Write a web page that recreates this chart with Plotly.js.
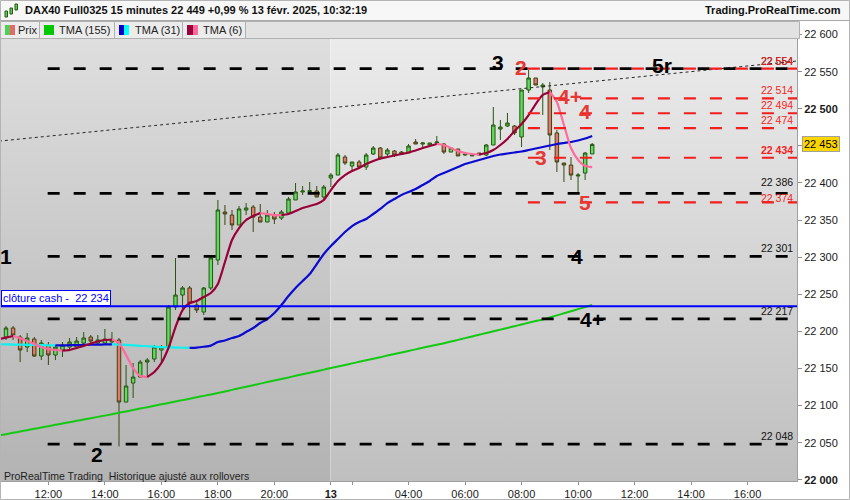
<!DOCTYPE html>
<html><head><meta charset="utf-8">
<script src="https://cdn.plot.ly/plotly-3.0.1.min.js"></script>
<style>html,body{margin:0;padding:0;background:#fff}#chart{width:850px;height:500px}</style>
</head><body><div id="chart"></div>
<script>
// ---- DATA (15-minute candles, DAX40 Full0325, 12 févr. 10:30 -> 13 févr. 10:30) ----
const open  = [22192.4,22204.6,22192.4,22178.9,22189.7,22166.8,22181.6,22168.2,22174.9,22178.9,
               22178.9,22184.3,22192.4,22184.3,22184.3,22185.7,22188.4,22104.8,22130.4,22138.5,
               22158.7,22162.8,22174.9,22178.9,22232.9,22249.0,22258.5,22235.6,22226.1,22258.5,
               22296.2,22360.9,22356.8,22343.4,22363.6,22367.6,22354.1,22347.4,22356.8,22352.8,
               22359.5,22377.1,22387.9,22388.5,22389.2,22381.1,22406.7,22410.7,22435.0,22422.9,
               22428.3,22421.5,22439.1,22447.1,22439.1,22443.1,22441.7,22440.4,22455.2,22452.5,
               22451.2,22453.9,22452.5,22441.7,22445.8,22437.7,22436.4,22440.4,22437.7,22451.2,
               22472.7,22476.8,22476.8,22462.0,22525.3,22541.5,22529.4,22525.3,22467.4,22426.9,
               22424.2,22409.4,22413.4,22439.1];
const high  = [22207.2,22207.2,22195.1,22197.8,22192.4,22188.4,22185.7,22181.6,22185.7,22191.1,
               22192.4,22199.2,22195.1,22195.1,22203.2,22199.2,22191.1,22154.7,22157.4,22161.4,
               22164.1,22181.6,22181.6,22235.6,22298.9,22261.2,22261.2,22242.3,22259.8,22302.9,
               22377.1,22370.3,22363.6,22369.0,22373.0,22370.3,22371.7,22363.6,22360.9,22363.6,
               22381.1,22400.0,22395.9,22401.3,22395.9,22397.3,22413.4,22440.4,22437.7,22428.3,
               22431.0,22440.4,22449.8,22448.5,22447.1,22444.4,22443.1,22452.5,22459.3,22455.2,
               22453.9,22463.3,22453.9,22447.1,22445.8,22441.7,22437.7,22440.4,22452.5,22502.4,
               22484.9,22494.3,22478.1,22525.3,22552.3,22541.5,22534.7,22536.1,22471.4,22426.9,
               22435.0,22413.4,22441.7,22453.9];
const low   = [22188.4,22188.4,22158.7,22172.2,22165.5,22161.4,22154.7,22161.4,22165.5,22174.9,
               22177.6,22181.6,22181.6,22181.6,22181.6,22184.3,22045.0,22104.8,22110.2,22138.5,
               22138.5,22158.7,22158.7,22176.2,22228.8,22228.8,22218.0,22224.8,22222.1,22255.8,
               22289.5,22343.4,22336.6,22343.4,22356.8,22334.0,22347.4,22347.4,22344.7,22350.1,
               22359.5,22377.1,22383.8,22386.5,22381.1,22377.1,22394.6,22410.7,22424.2,22414.8,
               22420.2,22417.5,22437.7,22431.0,22436.4,22435.0,22437.7,22440.4,22452.5,22448.5,
               22449.8,22452.5,22439.1,22441.7,22436.4,22436.4,22436.4,22437.7,22436.4,22451.2,
               22457.9,22475.4,22464.7,22448.5,22521.3,22532.0,22491.6,22444.4,22414.8,22401.3,
               22404.0,22386.5,22404.0,22439.1];
const close = [22204.6,22195.1,22174.9,22191.1,22166.8,22184.3,22168.2,22178.9,22181.6,22185.7,
               22187.0,22191.1,22187.0,22188.4,22189.7,22188.4,22104.8,22126.4,22138.5,22158.7,
               22161.4,22178.9,22178.9,22232.9,22249.0,22258.5,22238.2,22228.8,22258.5,22298.9,
               22363.6,22358.2,22343.4,22365.0,22366.3,22354.1,22347.4,22356.8,22351.4,22360.9,
               22378.4,22387.9,22389.2,22389.5,22381.1,22394.6,22410.7,22437.7,22426.9,22428.3,
               22421.5,22437.7,22447.1,22433.6,22444.4,22437.7,22439.1,22449.8,22452.5,22453.9,
               22453.9,22455.2,22441.7,22447.1,22436.4,22439.1,22437.7,22437.7,22451.2,22478.1,
               22475.4,22480.8,22467.4,22525.3,22541.5,22532.0,22532.0,22464.7,22428.3,22424.2,
               22410.7,22410.7,22440.4,22452.0];
// moving averages: first value is the bar just before the first visible candle
const tma155 = [22059.7,
                22061.5,22063.3,22065.1,22066.9,22068.7,22070.5,22072.3,22074.1,22075.9,22077.7,
                22079.5,22081.3,22083.1,22084.8,22086.5,22088.4,22090.3,22092.2,22094.1,22096.0,
                22097.9,22099.8,22101.7,22103.6,22105.5,22107.4,22109.3,22111.2,22113.1,22115.0,
                22117.0,22119.1,22121.2,22123.3,22125.4,22127.5,22129.6,22131.7,22133.8,22135.9,
                22138.0,22140.1,22142.2,22144.3,22146.4,22148.5,22150.6,22152.7,22154.8,22156.9,
                22159.0,22161.1,22163.2,22165.3,22167.4,22169.5,22171.6,22173.7,22175.8,22177.9,
                22180.0,22182.0,22184.0,22186.3,22188.6,22190.9,22193.2,22195.5,22197.8,22200.1,
                22202.4,22204.7,22207.0,22209.3,22211.6,22213.9,22216.0,22218.8,22221.6,22224.4,
                22227.2,22230.0,22232.8,22235.6];
const tma31 = [22182.7,
               22182.5,22182.3,22182.1,22181.9,22181.7,22181.5,22181.3,22181.1,22181.2,22181.4,
               22181.6,22181.8,22182.0,22182.2,22182.4,22182.6,22182.3,22181.8,22181.2,22180.6,
               22180.0,22179.4,22178.9,22178.5,22178.2,22178.0,22177.8,22178.2,22179.3,22180.8,
               22185.7,22187.7,22191.1,22193.8,22199.2,22204.6,22211.3,22216.7,22224.8,22235.6,
               22247.7,22258.5,22267.9,22277.3,22290.8,22304.3,22315.1,22324.5,22333.9,22342.0,
               22347.4,22351.4,22358.2,22365.0,22373.0,22378.4,22383.8,22387.9,22391.9,22397.3,
               22402.7,22409.4,22413.4,22417.5,22421.5,22425.6,22428.3,22431.0,22433.7,22436.4,
               22438.4,22439.7,22441.1,22442.4,22444.4,22446.5,22448.5,22450.5,22452.5,22453.9,
               22455.2,22457.2,22459.9,22463.3];
const tma6 = [22189.5,
              22191.7,22193.8,22191.1,22187.0,22183.0,22178.9,22176.2,22174.9,22174.2,22174.9,
              22177.6,22180.3,22183.7,22186.4,22188.4,22189.1,22184.3,22168.2,22150.6,22139.9,
              22138.5,22145.2,22157.4,22177.6,22205.9,22228.8,22238.2,22240.9,22246.3,22251.7,
              22263.9,22293.5,22323.2,22339.3,22350.1,22355.5,22359.5,22358.2,22356.8,22356.8,
              22358.2,22362.2,22366.3,22369.0,22371.7,22377.1,22390.5,22402.7,22410.7,22416.1,
              22420.2,22425.6,22429.6,22433.0,22435.0,22437.0,22439.1,22441.1,22443.8,22447.1,
              22449.8,22452.5,22451.2,22447.1,22443.1,22440.4,22439.1,22438.4,22440.4,22444.4,
              22451.2,22459.3,22470.1,22479.5,22491.6,22506.4,22518.6,22522.6,22509.1,22478.1,
              22447.1,22430.9,22422.9,22421.5];
const xTickIdx  = [6,14,22,30,38,46,49,57,65,73,81,89,97,105];
const xTickText = ['12:00','14:00','16:00','18:00','20:00','<b>13</b>','','04:00','06:00','08:00','10:00','12:00','14:00','16:00'];
const yTickVals = [22000,22050,22100,22150,22200,22250,22300,22350,22400,22450,22500,22550,22600];
const yTickText = ['<b>22 000</b>','22 050','22 100','22 150','22 200','22 250','22 300','22 350','22 400','22 450','<b>22 500</b>','22 550','22 600'];
const levelsBlack = [22554,22386,22301,22217,22048];
const levelsRed   = [22554,22514,22494,22474,22434,22374];
const cashClose = 22234;
const lastPrice = 22453;
const trendIdx = [-1,112];
const trendPrices = [22456.4,22564.4];

// ---- helpers ----
const FONT = 'Liberation Sans, Arial, sans-serif';
const PW = 797, PT = 21, PB = 481, PH = PB - PT;
const P = x => x / PW;            // pixel x -> paper
const Q = y => (PB - y) / PH;     // pixel y -> paper
const fmt = v => { const s = String(v); return s.slice(0, s.length - 3) + ' ' + s.slice(-3); };
const idx = open.map((_, i) => i);
const maIdx = tma155.map((_, i) => i - 1);

function segs(vals, upC, downC, w) {
  const out = [];
  let dir = vals[1] >= vals[0] ? 1 : -1, start = 0;
  const mk = (a, b, dd) => ({type:'scatter', mode:'lines', x: maIdx.slice(a, b+1), y: vals.slice(a, b+1),
      line:{color: dd > 0 ? upC : downC, width: w, shape:'spline', smoothing:0.6}, hoverinfo:'skip', showlegend:false});
  for (let i = 1; i < vals.length; i++) {
    const d = vals[i] > vals[i-1] ? 1 : (vals[i] < vals[i-1] ? -1 : dir);
    if (d !== dir) { out.push(mk(start, i-1, dir)); start = i-1; dir = d; }
  }
  out.push(mk(start, vals.length-1, dir));
  return out;
}

const traces = [];
traces.push({type:'scatter', mode:'lines', x: trendIdx, y: trendPrices,
  line:{color:'#262626', width:1, dash:'3px,3px'}, hoverinfo:'skip', showlegend:false});
traces.push({type:'scatter', mode:'lines', x: maIdx, y: tma155,
  line:{color:'#14c814', width:2, shape:'spline'}, hoverinfo:'skip', showlegend:false});
traces.push({type:'candlestick', x: idx, open, high, low, close,
  increasing:{fillcolor:'#5ddc5d', line:{color:'#25560f', width:1}},
  decreasing:{fillcolor:'#e8766b', line:{color:'#3a4510', width:1}},
  hoverinfo:'skip', showlegend:false});
segs(tma31, '#0a0ad0', '#10f0f0', 2.2).forEach(t => traces.push(t));
segs(tma6, '#9a0038', '#ff6b9b', 2.2).forEach(t => traces.push(t));

// ---- background gradients ----
function grad(c1, c2) {
  const svg = '<svg xmlns="http://www.w3.org/2000/svg" width="100" height="460" viewBox="0 0 100 460" preserveAspectRatio="none">' +
    '<defs><linearGradient id="g" x1="0" y1="0" x2="0" y2="1"><stop offset="0" stop-color="' + c1 + '"/>' +
    '<stop offset="1" stop-color="' + c2 + '"/></linearGradient></defs><rect width="100" height="460" fill="url(#g)"/></svg>';
  return 'data:image/svg+xml;charset=utf-8,' + encodeURIComponent(svg);
}
const XMIN = -0.85, XMAX = 112, DAYB = 45.9;
const images = [
  {source: grad('#e0e0e0', '#b3b3b3'), xref:'x', yref:'paper', x: XMIN, y: 1, sizex: DAYB - XMIN, sizey: 1,
   xanchor:'left', yanchor:'top', sizing:'stretch', layer:'below'},
  {source: grad('#ededed', '#bfbfbf'), xref:'x', yref:'paper', x: DAYB, y: 1, sizex: XMAX - DAYB, sizey: 1,
   xanchor:'left', yanchor:'top', sizing:'stretch', layer:'below'}
];

// ---- shapes ----
const shapes = [];
levelsBlack.forEach(v => shapes.push({type:'line', xref:'x', yref:'y', x0:5.9, x1:XMAX, y0:v, y1:v,
  line:{color:'#000', width:2.8, dash:'12px,14px'}, layer:'above'}));
levelsRed.forEach(v => shapes.push({type:'line', xref:'x', yref:'y', x0:73.9, x1:XMAX, y0:v, y1:v,
  line:{color:'#f41e1e', width:2.2, dash:'12px,14px'}, layer:'above'}));
shapes.push({type:'line', xref:'paper', yref:'y', x0:0, x1:1, y0:cashClose, y1:cashClose,
  line:{color:'#0000ff', width:2}, layer:'above'});
// header + legend row
const R = (x0, y0, x1, y1, fill, line) => ({type:'rect', xref:'paper', yref:'paper', x0:P(x0), x1:P(x1), y0:Q(y1), y1:Q(y0),
  fillcolor: fill, line: line ? {color: line, width:1} : {width:0}, layer:'above'});
shapes.push(R(0, 0, 850, 20.5, '#f7f7f7', null));
shapes.push({type:'line', xref:'paper', yref:'paper', x0:0, x1:P(850), y0:Q(20.5), y1:Q(20.5), line:{color:'#a8a8a8', width:1}, layer:'above'});
shapes.push(R(0.5, 21.5, 799.5, 38.5, '#e2e2e2', '#b0b0b0'));
[[0.5,39.5],[39.5,114.5],[114.5,182.5],[182.5,245.5]].forEach(b => shapes.push(R(b[0], 21.5, b[1], 38.5, '#ececec', '#b0b0b0')));
shapes.push(R(5, 25, 10, 35, '#55cc55', null));
shapes.push(R(10, 25, 15, 35, '#e26a6a', null));
shapes.push(R(44, 25, 54, 35, '#00c800', null));
shapes.push(R(119, 25, 124, 35, '#0000cc', null));
shapes.push(R(124, 25, 129, 35, '#00ffff', null));
shapes.push(R(187, 25, 193, 35, '#99003b', null));
shapes.push(R(193, 25, 198, 35, '#ff6a9b', null));
// header candle icon
shapes.push(R(5, 11, 7.5, 17, '#55cc55', '#2a5a12'));
shapes.push(R(10, 8, 12.5, 14, '#55cc55', '#2a5a12'));
shapes.push(R(15, 4, 17.5, 10, '#55cc55', '#2a5a12'));
// outer frame
shapes.push(R(0.5, 0.5, 849.5, 499.5, 'rgba(0,0,0,0)', '#b4b4b4'));

// ---- annotations ----
const ann = [];
const A = (o) => ann.push(Object.assign({showarrow:false}, o));
A({xref:'paper', yref:'paper', x:P(23), y:Q(10.5), xanchor:'left', yanchor:'middle',
   text:'<b>DAX40 Full0325 15 minutes 22 449 +0,99 % 13 févr. 2025, 10:32:19</b>', font:{family:FONT, size:11, color:'#111'}});
A({xref:'paper', yref:'paper', x:P(843), y:Q(10.5), xanchor:'right', yanchor:'middle',
   text:'<b>Trading.ProRealTime.com</b>', font:{family:FONT, size:11, color:'#111'}});
[['Prix',16],['TMA (155)',57],['TMA (31)',133],['TMA (6)',201]].forEach(l =>
  A({xref:'paper', yref:'paper', x:P(l[1]), y:Q(30), xanchor:'left', yanchor:'middle', text:l[0], font:{family:FONT, size:11, color:'#222'}}));
A({xref:'paper', yref:'paper', x:P(2), y:Q(476), xanchor:'left', yanchor:'middle',
   text:'ProRealTime Trading  Historique ajusté aux rollovers', font:{family:FONT, size:10.5, color:'#1e1e1e'}});
// small shifts keep the two close labels (22 386 / 22 374) from colliding
const labelShift = {22386: 3, 22374: -4};
levelsBlack.forEach(v => A({xref:'paper', yref:'y', x:1, y:v, xanchor:'right', yanchor:'bottom', xshift:-2, yshift: labelShift[v] || 0,
   text: fmt(v), font:{family:FONT, size:10.5, color:'#111'}}));
levelsRed.forEach(v => A({xref:'paper', yref:'y', x:1, y:v, xanchor:'right', yanchor:'bottom', xshift:-2, yshift: labelShift[v] || 0,
   text: v === 22434 ? '<b>' + fmt(v) + '</b>' : fmt(v), font:{family:FONT, size:10.5, color:'#f41e1e'}}));
A({xref:'paper', yref:'y', x:0, y:cashClose, xanchor:'left', yanchor:'bottom', xshift:1,
   text:'clôture cash -\u00a0 ' + fmt(cashClose), font:{family:FONT, size:11, color:'#0000ff'},
   bgcolor:'#ffffff', bordercolor:'#0000ff', borderwidth:1, borderpad:1});
A({xref:'paper', yref:'y', x:1, y:lastPrice, xanchor:'left', yanchor:'middle', xshift:5,
   text: fmt(lastPrice), font:{family:FONT, size:11, color:'#000'}, bgcolor:'#ffd700', bordercolor:'#a0a0a0', borderwidth:1, borderpad:1});
const BIG = (t, x, y, c, xref) => A({xref: xref || 'x', yref:'y', x, y, xanchor:'center', yanchor:'middle',
   text:'<b>' + t + '</b>', font:{family:FONT, size:21, color:c}});
BIG('1', 0.008, 22301.6, '#000', 'paper');
BIG('2', 12.9, 22034.7, '#000');
BIG('3', 69.7, 22563, '#000');
BIG('2', 72.9, 22555, '#e53935');
BIG('5r', 92.9, 22558, '#000');
BIG('4+', 79.9, 22516, '#e53935');
BIG('4', 82.0, 22496, '#e53935');
BIG('3', 75.8, 22435, '#e53935');
BIG('5', 82.0, 22374, '#e53935');
BIG('4', 80.9, 22301.6, '#000');
BIG('4+', 83.0, 22216.7, '#000');

const layout = {
  width:850, height:500, autosize:false,
  margin:{l:0, r:850-PW, t:PT, b:500-PB, pad:0},
  paper_bgcolor:'#ffffff', plot_bgcolor:'rgba(0,0,0,0)',
  showlegend:false, separators:', ',
  font:{family:FONT, size:11, color:'#1a1a1a'},
  xaxis:{type:'linear', range:[XMIN, XMAX], showgrid:false, zeroline:false, rangeslider:{visible:false},
    tickmode:'array', tickvals:xTickIdx, ticktext:xTickText, ticks:'outside', ticklen:3, tickcolor:'#909090',
    showline:true, linecolor:'#a0a0a0', linewidth:1, tickfont:{family:FONT, size:11, color:'#1a1a1a'}, fixedrange:true},
  yaxis:{range:[21998.4, 22618.3], side:'right', showgrid:false, zeroline:false,
    tickmode:'array', tickvals:yTickVals, ticktext:yTickText, ticks:'outside', ticklen:4, tickcolor:'#909090',
    showline:true, linecolor:'#a0a0a0', linewidth:1, tickfont:{family:FONT, size:11, color:'#1a1a1a'}, fixedrange:true},
  images, shapes, annotations: ann
};
Plotly.newPlot('chart', traces, layout, {staticPlot:true, displayModeBar:false});
</script></body></html>
